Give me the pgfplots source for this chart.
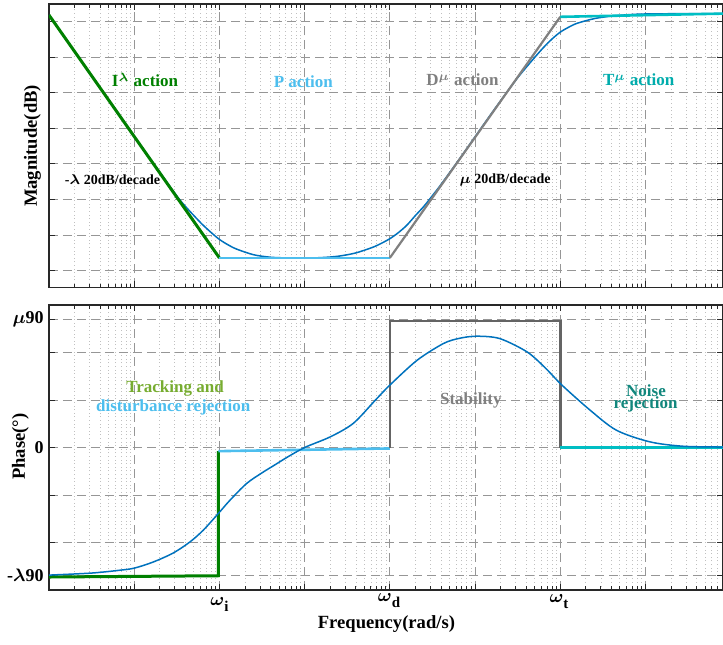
\documentclass[border=0pt]{standalone}
\usepackage{fontspec}
\setmainfont{Liberation Serif}
\usepackage{pgfplots}
\pgfplotsset{compat=1.18}

\definecolor{mblue}{RGB}{0,114,189}
\definecolor{dgreen}{RGB}{0,128,0}
\definecolor{lblue}{RGB}{77,190,238}
\definecolor{mgray}{RGB}{128,128,128}
\definecolor{phgray}{RGB}{100,100,100}
\definecolor{tealline}{RGB}{0,190,195}
\definecolor{tealtxt}{RGB}{0,172,172}
\definecolor{cnoise}{RGB}{18,135,125}
\definecolor{colive}{RGB}{119,172,48}
\definecolor{gridc}{RGB}{150,150,150}
\definecolor{axc}{RGB}{40,40,40}
\newcommand{\tlf}{\fontsize{9}{10}\selectfont\bfseries}
\newcommand{\txf}{\fontsize{8.5}{9}\selectfont\bfseries}
\newcommand{\smf}{\fontsize{7}{8}\selectfont\bfseries}
\newcommand{\lbf}{\fontsize{9.3}{10}\selectfont\bfseries}
\newcommand{\bl}{{\boldmath$\lambda$}}
\newcommand{\bmu}{{\boldmath$\mu$}}
\newcommand{\wsub}[1]{{\boldmath$\omega$}\raisebox{-0.75ex}{\fontsize{7.5}{8}\selectfont\bfseries #1}}

\begin{document}
\begin{tikzpicture}
\useasboundingbox (0,0) rectangle (361.5pt,-322pt);

% ---------------- Magnitude ----------------
\begin{axis}[xmode=log, scale only axis, width=337pt, height=141.75pt,
  at={(24.5pt,-2pt)}, anchor=north west,
  xmin=1, xmax=8.13e7,
  xtick={1e1,1e2,1e3,1e4,1e5,1e6,1e7},
  minor xtick={2,3,4,5,6,7,8,9,
      2e1,3e1,4e1,5e1,6e1,7e1,8e1,9e1,
      2e2,3e2,4e2,5e2,6e2,7e2,8e2,9e2,
      2e3,3e3,4e3,5e3,6e3,7e3,8e3,9e3,
      2e4,3e4,4e4,5e4,6e4,7e4,8e4,9e4,
      2e5,3e5,4e5,5e5,6e5,7e5,8e5,9e5,
      2e6,3e6,4e6,5e6,6e6,7e6,8e6,9e6,
      2e7,3e7,4e7,5e7,6e7,7e7,8e7},
  xmajorgrids, xminorgrids, ymajorgrids,
  major grid style={gridc, line width=0.45pt, dash pattern=on 4.5pt off 2.5pt},
  minor grid style={gridc!60, line width=0.4pt, dash pattern=on 0.4pt off 1.4pt},
  axis line style={axc, line width=0.7pt},
  tick align=inside, tick pos=both,
  every tick/.style={axc, line width=0.45pt},
  major tick length=3pt, minor tick length=1.8pt,
  ymin=-0.47, ymax=7.49, ytick={0,1,2,3,4,5,6,7},
  yticklabels={}, xticklabels={}]
\addplot[mblue, line width=0.75pt, smooth] coordinates {
 (1,7.18) (3.162,5.48) (10,3.78) (19.95,2.77) (31.62,2.10) (39.81,1.81)
 (50.12,1.55) (63.10,1.30) (79.43,1.08) (100,0.88) (125.9,0.73) (158.5,0.61)
 (251.2,0.45) (398.1,0.38) (631,0.36) (1000,0.355) (1585,0.37) (2512,0.41)
 (3981,0.50) (6310,0.66) (7943,0.77) (10000,0.90) (12589,1.07) (15849,1.28)
 (19953,1.55) (25119,1.81) (31623,2.11) (39811,2.42) (63096,3.08) (100000,3.76)
 (158489,4.44) (251189,5.10) (316228,5.42) (398107,5.71) (501187,5.99)
 (630957,6.26) (794328,6.50) (1000000,6.70) (1258925,6.84) (1584893,6.95)
 (2511886,7.08) (3981072,7.15) (6309573,7.19) (10000000,7.21) (31622777,7.22)
 (81283052,7.22)};
\addplot[dgreen, line width=1.5pt] coordinates {(1,7.18) (100,0.36)};
\addplot[lblue, line width=1.3pt] coordinates {(100,0.36) (10000,0.36)};
\addplot[mgray, line width=1.1pt] coordinates {(10000,0.36) (1000000,7.13)};
\addplot[tealline, line width=1.3pt] coordinates {(1000000,7.13) (81283052,7.22)};

\node[text=dgreen, font=\txf] at (axis cs:13.4,5.36) {I\textsuperscript{\bl} action};
\node[text=lblue, font=\txf] at (axis cs:966,5.30) {P action};
\node[text=mgray, font=\txf] at (axis cs:71290,5.36) {D\textsuperscript{\bmu} action};
\node[text=tealtxt, font=\txf] at (axis cs:8340000,5.36) {T\textsuperscript{\bmu} action};
\node[text=black, font=\smf] at (axis cs:5.56,2.55) {-\bl{} 20dB/decade};
\node[text=black, font=\smf] at (axis cs:225000,2.55) {\bmu{} 20dB/decade};
\end{axis}

% ---------------- Phase ----------------
\begin{axis}[xmode=log, scale only axis, width=337pt, height=142.5pt,
  at={(24.5pt,-152.5pt)}, anchor=north west,
  xmin=1, xmax=8.13e7,
  xtick={1e1,1e2,1e3,1e4,1e5,1e6,1e7},
  minor xtick={2,3,4,5,6,7,8,9,
      2e1,3e1,4e1,5e1,6e1,7e1,8e1,9e1,
      2e2,3e2,4e2,5e2,6e2,7e2,8e2,9e2,
      2e3,3e3,4e3,5e3,6e3,7e3,8e3,9e3,
      2e4,3e4,4e4,5e4,6e4,7e4,8e4,9e4,
      2e5,3e5,4e5,5e5,6e5,7e5,8e5,9e5,
      2e6,3e6,4e6,5e6,6e6,7e6,8e6,9e6,
      2e7,3e7,4e7,5e7,6e7,7e7,8e7},
  xmajorgrids, xminorgrids, ymajorgrids,
  major grid style={gridc, line width=0.45pt, dash pattern=on 4.5pt off 2.5pt},
  minor grid style={gridc!60, line width=0.4pt, dash pattern=on 0.4pt off 1.4pt},
  axis line style={axc, line width=0.7pt},
  tick align=inside, tick pos=both,
  every tick/.style={axc, line width=0.45pt},
  major tick length=3pt, minor tick length=1.8pt,
  ymin=-90, ymax=90, ytick={-81,-60,-30,0,30,60,81},
  yticklabels={}, xticklabels={}]
\addplot[dgreen, line width=1.5pt] coordinates {(1,-81.8) (97,-81) (97,-2.3)};
\addplot[lblue, line width=1.3pt] coordinates {(97,-2.3) (10000,-0.6)};
\addplot[phgray, line width=1.3pt] coordinates {(10000,0) (10000,80) (1000000,80) (1000000,0)};
\addplot[tealline, line width=1.3pt] coordinates {(1000000,0) (81283052,0)};
\addplot[mblue, line width=0.75pt, smooth] coordinates {
 (1,-80.6) (3.162,-79.3) (6.81,-77.5) (10,-76.2) (16.75,-72.3) (28.77,-66.6)
 (45.19,-59.6) (64.71,-52.2) (97.05,-41.7) (133.0,-33.3) (208.9,-22.7)
 (316.2,-16) (446.7,-11) (631,-6) (1000,0) (1995,6.7) (3715,15.2) (6761,29.9)
 (10000,39.4) (20893,55.1) (42658,65.7) (66069,69) (104713,70.3) (194984,68.8)
 (407380,60.4) (660693,50.5) (1047129,39.4) (2238721,23.6) (4570882,10.9)
 (11220185,3.6) (27542287,0.8) (81283052,0.3)};
\end{axis}

% ---------------- Phase texts and tick labels ----------------
\node[text=colive, font=\txf, anchor=base] at (87.5pt,-196.2pt) {Tracking and};
\node[text=lblue, font=\txf, anchor=base] at (86.6pt,-205.8pt) {disturbance rejection};
\node[text=mgray, font=\txf] at (235.4pt,-200pt) {Stability};
\node[text=cnoise, font=\txf, anchor=base] at (323pt,-198pt) {Noise};
\node[text=cnoise, font=\txf, anchor=base] at (322.8pt,-204pt) {rejection};
\node[anchor=east, font=\tlf, inner sep=0pt] at (22pt,-287.9pt) {-\bl90};
\node[anchor=east, font=\tlf, inner sep=0pt] at (22pt,-223.7pt) {0};
\node[anchor=east, font=\tlf, inner sep=0pt] at (22pt,-159.7pt) {\bmu90};
\node[anchor=north, font=\tlf, inner sep=0pt] at (109.7pt,-298.5pt) {\wsub{i}};
\node[anchor=north, font=\tlf, inner sep=0pt] at (194.5pt,-296.5pt) {\wsub{d}};
\node[anchor=north, font=\tlf, inner sep=0pt] at (279.5pt,-297pt) {\wsub{t}};

\node[rotate=90, font=\lbf] at (16.25pt,-73pt) {Magnitude(dB)};
\node[rotate=90, font=\lbf] at (10.25pt,-223.3pt) {Phase(°)};
\node[font=\lbf] at (193.2pt,-312pt) {Frequency(rad/s)};
\end{tikzpicture}
\end{document}
